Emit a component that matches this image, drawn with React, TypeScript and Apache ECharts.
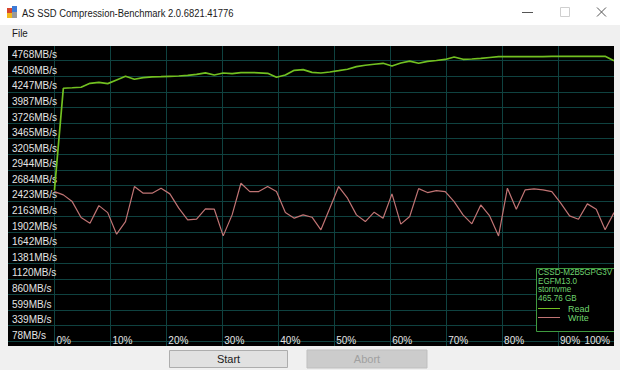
import React, { useEffect, useRef } from "react";
import * as echarts from "echarts";

// Sample positions along the compression axis (percent)
const samplePct = [
  0, 1.59, 3.17, 4.76, 6.35, 7.94, 9.52, 11.11, 12.7, 14.29,
  15.87, 17.46, 19.05, 20.63, 22.22, 23.81, 25.4, 26.98, 28.57, 30.16,
  31.75, 33.33, 34.92, 36.51, 38.1, 39.68, 41.27, 42.86, 44.44, 46.03,
  47.62, 49.21, 50.79, 52.38, 53.97, 55.56, 57.14, 58.73, 60.32, 61.9,
  63.49, 65.08, 66.67, 68.25, 69.84, 71.43, 73.02, 74.6, 76.19, 77.78,
  79.37, 80.95, 82.54, 84.13, 85.71, 87.3, 88.89, 90.48, 92.06, 93.65,
  95.24, 96.83, 98.41, 100,
];

const readMBs = [
  2600, 4307, 4315, 4324, 4389, 4404, 4384, 4446, 4507, 4457,
  4484, 4498, 4501, 4507, 4512, 4523, 4540, 4565, 4529, 4562,
  4551, 4568, 4570, 4565, 4557, 4490, 4529, 4607, 4618, 4573,
  4562, 4579, 4601, 4624, 4668, 4691, 4708, 4724, 4679, 4729,
  4760, 4724, 4757, 4771, 4788, 4830, 4791, 4796, 4807, 4821,
  4835, 4835, 4835, 4835, 4837, 4837, 4838, 4838, 4839, 4840,
  4840, 4841, 4841, 4768,
];

const writeMBs = [
  2580, 2525, 2413, 2146, 2052, 2346, 2229, 1869, 2079, 2664,
  2553, 2553, 2637, 2542, 2303, 2108, 2120, 2290, 2286, 1840,
  2191, 2720, 2580, 2580, 2664, 2580, 2229, 2136, 2191, 2152,
  1941, 2303, 2664, 2470, 2191, 2079, 2236, 2136, 2542, 2036,
  2163, 2630, 2564, 2597, 2580, 2413, 2191, 2041, 2358, 2174,
  1840, 2637, 2286, 2609, 2625, 2609, 2580, 2386, 2174, 2119,
  2375, 2286, 1941, 2229,
];

const yTicks = [78, 339, 599, 860, 1120, 1381, 1642, 1902, 2163, 2423, 2684, 2944, 3205, 3465, 3726, 3987, 4247, 4508, 4768];
const xTicks = [0, 10, 20, 30, 40, 50, 60, 70, 80, 90, 100];
const seriesNames = ["Read", "Write"];
const driveInfo = ["CSSD-M2B5GPG3V", "EGFM13.0", "stornvme", "465.76 GB"];
const windowTitle = "AS SSD Compression-Benchmark 2.0.6821.41776";

const FONT = "'Liberation Sans', Arial, sans-serif";
const GRID_COLOR = "#0f4240";
const LABEL_COLOR = "#e4e4e4";
const READ_COLOR = "#72c021";
const WRITE_COLOR = "#c07474";
const INFO_COLOR = "#6fd46f";

export default function App() {
  const ref = useRef<HTMLDivElement>(null);

  useEffect(() => {
    if (!ref.current) return;
    const chart = echarts.init(ref.current, undefined, { renderer: "svg" });

    const infoTexts = driveInfo.map((t, i) => ({
      type: "text",
      z: 60,
      x: 538,
      y: 272 + i * 8.5,
      scaleX: 0.9,
      style: {
        text: t,
        fill: INFO_COLOR,
        font: `9px ${FONT}`,
        textAlign: "left",
        textVerticalAlign: "middle",
      },
    }));

    const option: any = {
      animation: false,
      backgroundColor: "#f0f0f0",
      grid: {
        left: 8,
        top: 46,
        width: 606,
        height: 300,
        show: true,
        backgroundColor: "#000000",
        borderWidth: 0,
        containLabel: false,
        outerBoundsMode: "none",
      },
      xAxis: {
        type: "value",
        min: -8.3,
        max: 100,
        axisLine: { show: false },
        axisTick: { show: false, customValues: xTicks },
        splitLine: { show: true, lineStyle: { color: GRID_COLOR, width: 1 } },
        axisLabel: {
          customValues: xTicks,
          inside: true,
          formatter: (v: number) => `${Math.round(v)}%`,
          color: LABEL_COLOR,
          fontSize: 10,
          fontFamily: FONT,
          align: "left",
          verticalAlign: "bottom",
          margin: 1,
          padding: [0, 4, 0, 2],
          alignMaxLabel: "right",
        },
      },
      yAxis: {
        type: "value",
        min: 0,
        max: 5013,
        axisLine: { show: false },
        axisTick: { show: false, customValues: yTicks },
        splitLine: { show: true, lineStyle: { color: GRID_COLOR, width: 1 } },
        axisLabel: {
          customValues: yTicks,
          inside: true,
          formatter: (v: number) => `${Math.round(v)}MB/s`,
          color: LABEL_COLOR,
          fontSize: 10,
          fontFamily: FONT,
          align: "left",
          verticalAlign: "bottom",
          margin: 4,
          padding: [0, 0, 1, 0],
        },
      },
      legend: {
        orient: "vertical",
        left: 538,
        top: 304,
        padding: 0,
        itemGap: 0,
        itemWidth: 22,
        itemHeight: 1,
        icon: "rect",
        selectedMode: false,
        data: seriesNames,
        z: 70,
        textStyle: {
          color: INFO_COLOR,
          fontSize: 9,
          lineHeight: 8,
          fontFamily: FONT,
          padding: [0, 0, 0, 3],
        },
      },
      series: [
        {
          name: seriesNames[0],
          type: "line",
          data: samplePct.map((x, i) => [x, readMBs[i]]),
          symbol: "none",
          showSymbol: false,
          lineStyle: { color: READ_COLOR, width: 1.7 },
          itemStyle: { color: READ_COLOR },
          z: 5,
        },
        {
          name: seriesNames[1],
          type: "line",
          data: samplePct.map((x, i) => [x, writeMBs[i]]),
          symbol: "none",
          showSymbol: false,
          lineStyle: { color: WRITE_COLOR, width: 1.2 },
          itemStyle: { color: WRITE_COLOR },
          z: 4,
        },
      ],
      graphic: [
        // title bar
        { type: "rect", z: 1, shape: { x: 0, y: 0, width: 620, height: 25 }, style: { fill: "#ffffff" } },
        { type: "rect", z: 2, shape: { x: 7, y: 8, width: 5, height: 5 }, style: { fill: "#d8462e" } },
        { type: "rect", z: 2, shape: { x: 12, y: 6, width: 5, height: 6 }, style: { fill: "#3d7bd6" } },
        { type: "rect", z: 2, shape: { x: 7, y: 13, width: 5, height: 5 }, style: { fill: "#f2b81d" } },
        { type: "rect", z: 2, shape: { x: 12, y: 12, width: 5, height: 6 }, style: { fill: "#9a9a9a" } },
        {
          type: "text", z: 2, x: 22, y: 13, scaleX: 0.82,
          style: { text: windowTitle, fill: "#1a1a1a", font: `11.5px ${FONT}`, textAlign: "left", textVerticalAlign: "middle" },
        },
        { type: "line", z: 2, shape: { x1: 522, y1: 12.5, x2: 533, y2: 12.5 }, style: { stroke: "#555", lineWidth: 1 } },
        { type: "rect", z: 2, shape: { x: 560.5, y: 7.5, width: 9, height: 9 }, style: { fill: "none", stroke: "#cfcfcf", lineWidth: 1 } },
        { type: "line", z: 2, shape: { x1: 597, y1: 7.5, x2: 606, y2: 16.5 }, style: { stroke: "#555", lineWidth: 1 } },
        { type: "line", z: 2, shape: { x1: 606, y1: 7.5, x2: 597, y2: 16.5 }, style: { stroke: "#555", lineWidth: 1 } },
        // menu
        {
          type: "text", z: 2, x: 12, y: 33, scaleX: 0.85,
          style: { text: "File", fill: "#1a1a1a", font: `11.5px ${FONT}`, textAlign: "left", textVerticalAlign: "middle" },
        },
        // legend / info box
        {
          type: "rect", z: 55,
          shape: { x: 536.5, y: 268.5, width: 82, height: 63 },
          style: { fill: "#000000", stroke: "#3f9a3f", lineWidth: 1 },
        },
        ...infoTexts,
        // right window edge covering the overflowing box
        { type: "rect", z: 100, shape: { x: 614, y: 44, width: 6, height: 304 }, style: { fill: "#f0f0f0" } },
        // buttons
        {
          type: "rect", z: 2, shape: { x: 169.5, y: 350.5, width: 118, height: 17 },
          style: { fill: "#e1e1e1", stroke: "#adadad", lineWidth: 1 },
        },
        {
          type: "text", z: 3, x: 228.5, y: 359,
          style: { text: "Start", fill: "#1a1a1a", font: `11px ${FONT}`, textAlign: "center", textVerticalAlign: "middle" },
        },
        {
          type: "rect", z: 2, shape: { x: 307, y: 350, width: 120, height: 18 },
          style: { fill: "#cccccc", stroke: "#bfbfbf", lineWidth: 1 },
        },
        {
          type: "text", z: 3, x: 367, y: 359,
          style: { text: "Abort", fill: "#a0a0a0", font: `11px ${FONT}`, textAlign: "center", textVerticalAlign: "middle" },
        },
      ],
    };

    chart.setOption(option);
    return () => {
      chart.dispose();
    };
  }, []);

  return (
    <div
      ref={ref}
      style={{ position: "fixed", left: 0, top: 0, width: 620, height: 370 }}
    />
  );
}
